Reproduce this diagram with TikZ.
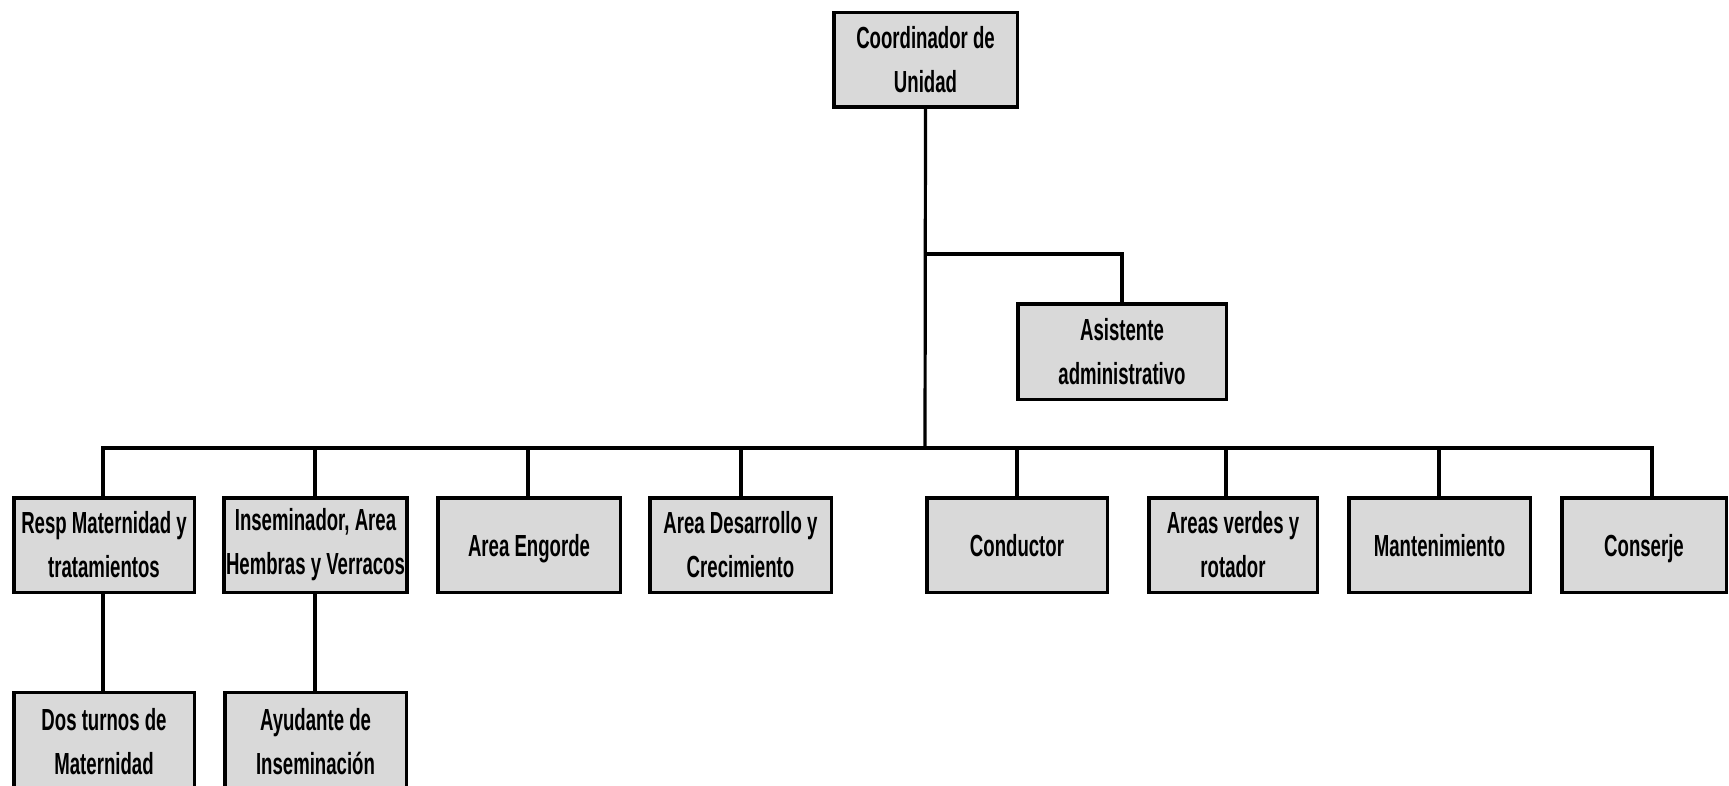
\documentclass[tikz,border=0pt]{standalone}
\usepackage{fontspec}
\setmainfont{Liberation Sans}[FakeStretch=0.61]
\definecolor{boxgray}{gray}{0.85}
\tikzset{
  orgbox/.style={
    draw,
    line width=3.5pt,
    fill=boxgray,
    align=center,
    inner sep=2pt,
    minimum height=94.5pt,
    font={\bfseries\fontsize{30.5}{44}\selectfont}
  },
  oneline/.style={text height=22pt, text depth=0pt},
  lowbox/.style={
    anchor=north,
    minimum height=0pt,
    inner ysep=16pt,
    text depth=90pt
  },
  orglink/.style={line width=3.2pt}
}

\begin{document}
\begin{tikzpicture}[x=1pt,y=-1pt]
\useasboundingbox (0,0) rectangle (1729,786);
% top of the chart
\node[orgbox, minimum width=183.5pt] (coord) at (925.5,60) {Coordinador de\\Unidad};
\node[orgbox, minimum width=208.5pt, minimum height=95.5pt] (asist) at (1122,351.5) {Asistente\\administrativo};
% areas
\node[orgbox, minimum width=180.5pt] (resp) at (104,545) {Resp Maternidad y\\tratamientos};
\node[orgbox, minimum width=181.5pt] (insem) at (315.5,545) {Inseminador, Area\\Hembras y Verracos};
\node[orgbox, oneline, minimum width=182.5pt] (engorde) at (529,545) {Area Engorde};
\node[orgbox, minimum width=181.5pt] (desarr) at (740.5,545) {Area Desarrollo y\\Crecimiento};
\node[orgbox, oneline, minimum width=180.5pt] (conduc) at (1017,545) {Conductor};
\node[orgbox, minimum width=168.5pt] (verdes) at (1233,545) {Areas verdes y\\rotador};
\node[orgbox, oneline, minimum width=181.5pt] (mant) at (1439.5,545) {Mantenimiento};
\node[orgbox, oneline, minimum width=164.5pt] (conserje) at (1644,545) {Conserje};
% second level
\node[orgbox, lowbox, minimum width=180.5pt] (turnos) at (104,690.75) {Dos turnos de\\Maternidad};
\node[orgbox, lowbox, minimum width=181.5pt] (ayud) at (315.5,690.75) {Ayudante de\\Inseminaci\'on};
% connectors
\coordinate (split) at (925,254);
\coordinate (bus) at (925,448);
\draw[orglink] (coord.south) -- (bus);
\draw[orglink] (split) -| (asist.north);
\foreach \n/\dx in {resp/-1,insem/-0.5,engorde/-1,desarr/0.5,conduc/0,verdes/-7,mant/-0.5,conserje/8}
  \draw[orglink] ([xshift=\dx pt]\n.north) |- (bus);
\draw[orglink] ([xshift=-1pt]resp.south) -- ([xshift=-1pt]turnos.north);
\draw[orglink] ([xshift=-0.5pt]insem.south) -- ([xshift=-0.5pt]ayud.north);
\end{tikzpicture}
\end{document}
